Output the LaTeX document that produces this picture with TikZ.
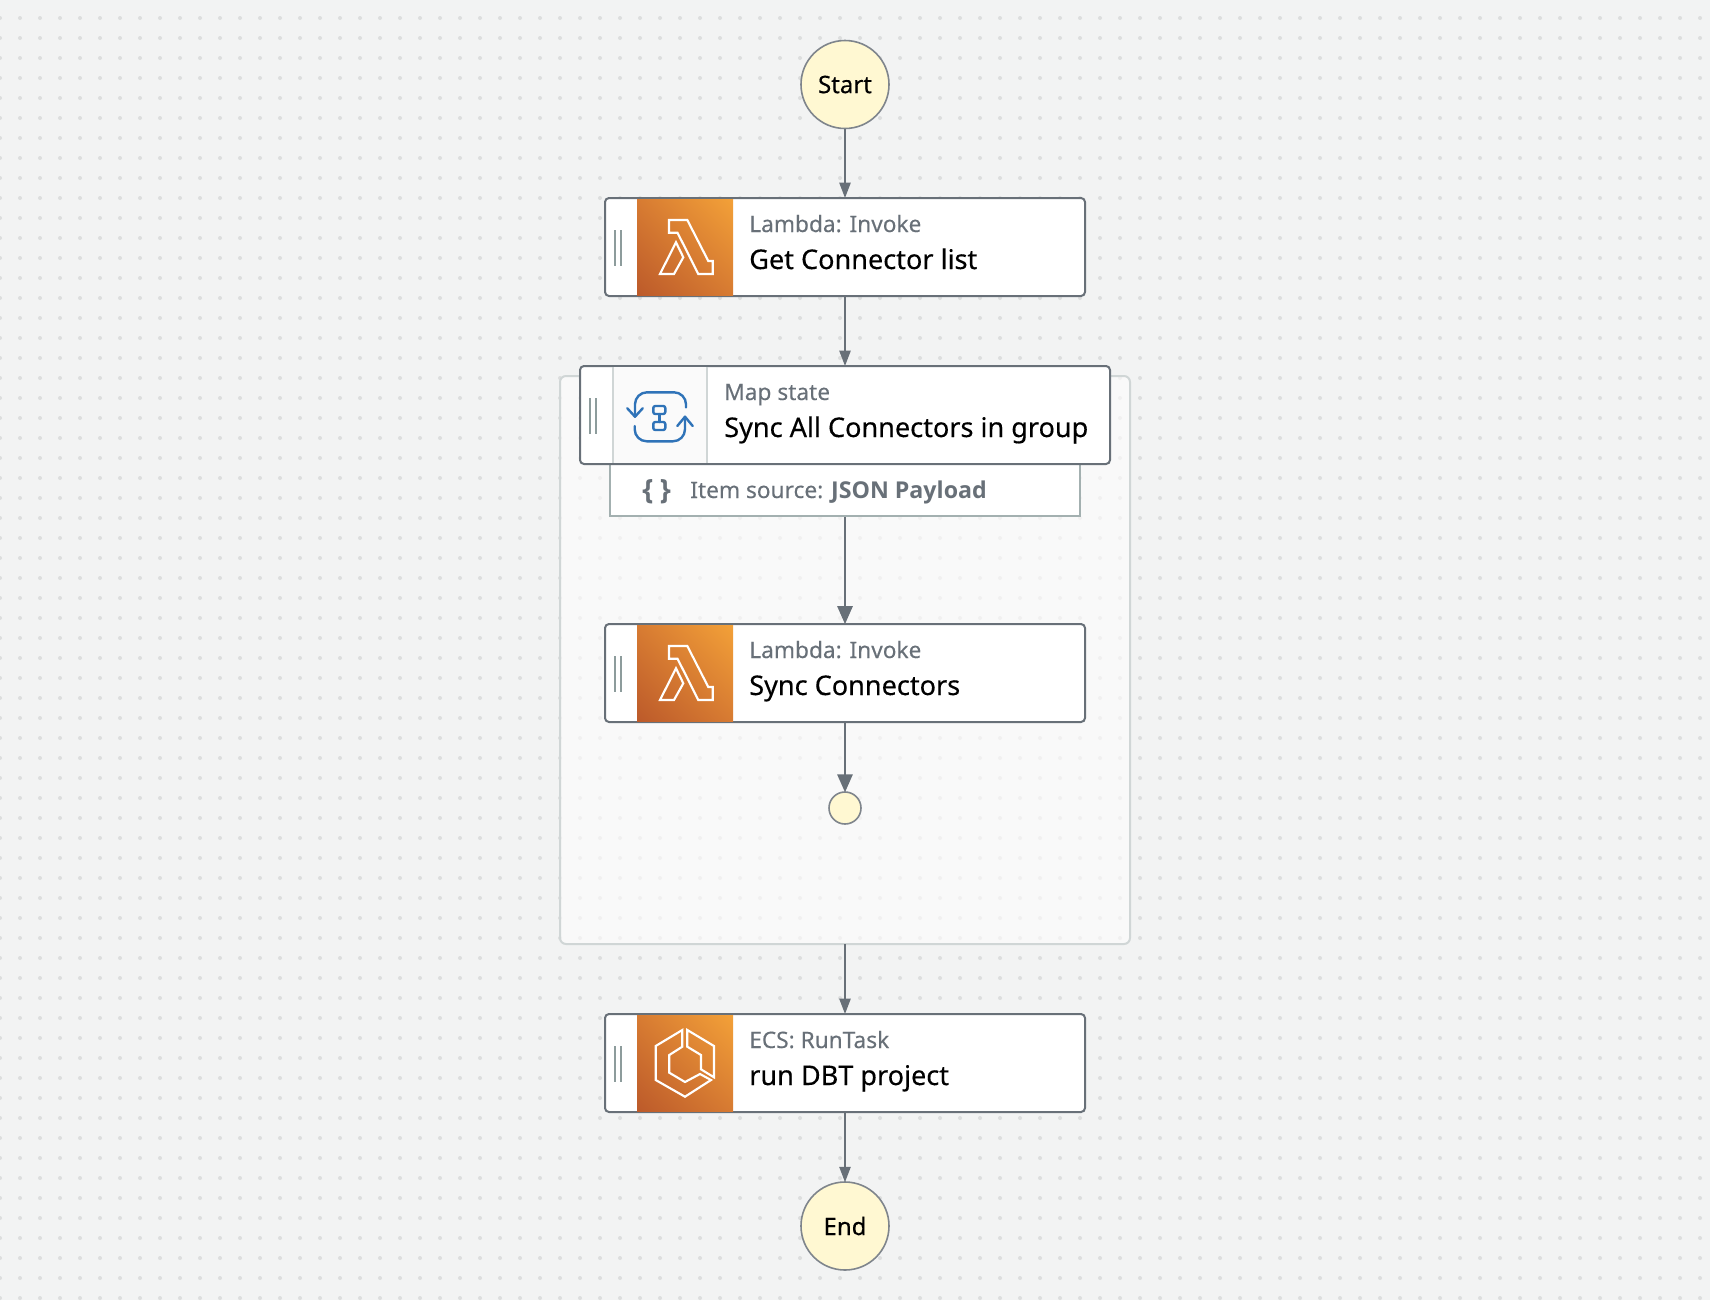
\documentclass[tikz,border=0pt]{standalone}
\usepackage{fontspec}
\setmainfont{Noto Sans}
\newfontfamily\titlefont{Noto Sans}[FakeBold=0.35]
\newfontfamily\subfont{Noto Sans}[FakeBold=0.15]
\newfontfamily\heavyfont{Open Sans}
\usetikzlibrary{arrows.meta,shadings}
\definecolor{pagebg}{HTML}{F2F3F3}
\definecolor{griddot}{HTML}{DCDEDE}
\definecolor{edgegray}{HTML}{687078}
\definecolor{startyellow}{HTML}{FFF8D2}
\definecolor{groupline}{HTML}{D0D6D6}
\definecolor{groupfill}{HTML}{FFFDFD}
\definecolor{itemline}{HTML}{A3B0B0}
\definecolor{gripgray}{HTML}{8D9C9C}
\definecolor{mapblue}{HTML}{2F73B8}
\definecolor{iconlow}{HTML}{BC5A2A}
\definecolor{iconmid}{HTML}{D77B32}
\definecolor{iconhigh}{HTML}{F3A138}
\tikzset{
  flowedge/.style={draw=edgegray, line width=1.5pt, shorten >=-0.8pt, -{Triangle[length=11.5pt,width=8.3pt]}},
  bigedge/.style={draw=edgegray, line width=1.5pt, shorten >=-0.8pt, -{Triangle[length=13.5pt,width=11.5pt]}},
  taskbox/.style={draw=edgegray, fill=white, line width=1.5pt, rounded corners=3pt, minimum width=360pt, minimum height=73.5pt, inner sep=0pt},
  mapbox/.style={taskbox, minimum width=397.5pt},
  itembox/.style={draw=itemline, fill=white, line width=1.5pt, minimum width=352.5pt, minimum height=42pt, inner sep=0pt},
  endpoint/.style={circle, draw=edgegray!85, fill=startyellow, line width=1.2pt, minimum size=66pt, inner sep=0pt, font=\titlefont\fontsize{18pt}{22pt}\selectfont},
  junction/.style={circle, draw=edgegray!85, fill=startyellow, line width=1.2pt, minimum size=24pt, inner sep=0pt},
  sublabel/.style={anchor=base west, inner sep=0pt, text=edgegray, font=\subfont\fontsize{17pt}{20pt}\selectfont},
  titlelabel/.style={anchor=base west, inner sep=0pt, text=black, font=\titlefont\fontsize{20.3pt}{22pt}\selectfont},
  iconback/.style={lower left=iconlow, upper right=iconhigh, upper left=iconmid, lower right=iconmid},
  iconline/.style={draw=white, line width=1.6pt, line join=miter},
  mapline/.style={draw=mapblue, line width=1.8pt, line cap=round, line join=round},
  mapcurve/.style={mapline, rounded corners=9pt},
  grip/.style={draw=gripgray, line width=1pt}
}
\begin{document}
\begin{tikzpicture}[x=0.75pt,y=-0.75pt]
\useasboundingbox (0,0) rectangle (1710,1300);
\fill[pagebg] (0,0) rectangle (1710,1300);
\foreach \dx in {0,20,...,1700} {
  \foreach \dy in {18,38,...,1298} {
    \fill[griddot] (\dx,\dy) circle (1.5pt);
  }
}
\fill[groupfill, fill opacity=0.6] (560,376) [rounded corners=4.5pt] rectangle (1130,944);
\draw[groupline, line width=1.5pt, rounded corners=4.5pt] (560,376) rectangle (1130,944);
\coordinate (groupbottom) at (845,944);
\node[endpoint] (start) at (845,84.5) {Start};
\node[taskbox] (getlist) at (845,247) {};
\node[itembox] (itemsource) at (845,488) {};
\node[mapbox] (syncall) at (845,415) {};
\node[taskbox] (syncconn) at (845,673) {};
\node[junction] (mapend) at (845,808) {};
\node[taskbox] (rundbt) at (845,1063) {};
\node[endpoint] (finish) at (845,1226) {End};
\draw[flowedge] (start) -- (getlist);
\draw[flowedge] (getlist) -- (syncall);
\draw[bigedge] (itemsource.south) -- (syncconn);
\draw[bigedge] (syncconn) -- (mapend);
\draw[flowedge] (groupbottom) -- (rundbt);
\draw[flowedge] (rundbt) -- (finish);
\foreach \ty in {198,624,1014} {
  \shade[iconback] (637,\ty+1) rectangle (733,\ty+97);
  \draw[grip] (615,\ty+32) -- (615,\ty+68);
  \draw[grip] (621,\ty+32) -- (621,\ty+68);
}
\foreach \ty in {0,426} {
  \begin{scope}[shift={(0,198+\ty)}]
    \draw[iconline] (669,22) -- (687.3,22) -- (708.3,63) -- (712.7,63) -- (712.7,76) -- (698.3,76) -- (677.5,34.7) -- (669,34.7) -- cycle;
    \draw[iconline] (676,44.3) -- (683.3,59.3) -- (674,76) -- (660,76) -- cycle;
  \end{scope}
}
\draw[iconline] (682.3,1030) -- (655.7,1046) -- (655.7,1080) -- (685,1096.7) -- (711,1080) -- (700,1074) -- (685,1082) -- (669.3,1072.7) -- (669.3,1055) -- (682.3,1046.7) -- cycle;
\draw[iconline] (687.3,1030) -- (714,1046) -- (714,1077.3) -- (701,1069.3) -- (701,1055) -- (687.3,1046.7) -- cycle;
\fill[white!60!pagebg] (613,367) rectangle (707,463);
\draw[groupline, line width=1pt] (613,367) -- (613,463);
\draw[groupline, line width=1pt] (707,367) -- (707,463);
\draw[grip] (590,398) -- (590,434);
\draw[grip] (596,398) -- (596,434);
\draw[mapline] (627.3,408.3) -- (635,416.7) -- (642.7,408.3);
\draw[mapcurve] (635,416.7) -- (635,392.3) -- (686,392.3) -- (686,407.3);
\draw[mapline] (677.3,426) -- (685,416.7) -- (692.7,426);
\draw[mapcurve] (685,416.7) -- (685,441.3) -- (634.7,441.3) -- (634.7,426);
\draw[mapline, rounded corners=1.5pt] (653.3,406) rectangle (665.3,414);
\draw[mapline, rounded corners=1.5pt] (653.3,422) rectangle (665.3,430);
\draw[mapline] (659.3,414) -- (659.3,422);
\node[sublabel] (getlistsub) at (749,232) {Lambda: Invoke};
\node[titlelabel] (getlisttitle) at (749,269) {Get Connector list};
\node[sublabel] (syncallsub) at (724,400) {Map state};
\node[titlelabel] (syncalltitle) at (724,437) {Sync All Connectors in group};
\node[sublabel, font=\heavyfont\bfseries\fontsize{21pt}{22pt}\selectfont] (itembrace) at (642,499) {\{\hspace{5pt}\}};
\node[sublabel] (itemtext) at (690,498) {Item source: {\heavyfont\bfseries\fontsize{17.4pt}{20pt}\selectfont JSON Payload}};
\node[sublabel] (syncconnsub) at (749,658) {Lambda: Invoke};
\node[titlelabel] (syncconntitle) at (749,695) {Sync Connectors};
\node[sublabel] (rundbtsub) at (749,1048) {ECS: RunTask};
\node[titlelabel] (rundbttitle) at (749,1085) {run DBT project};
\end{tikzpicture}
\end{document}
